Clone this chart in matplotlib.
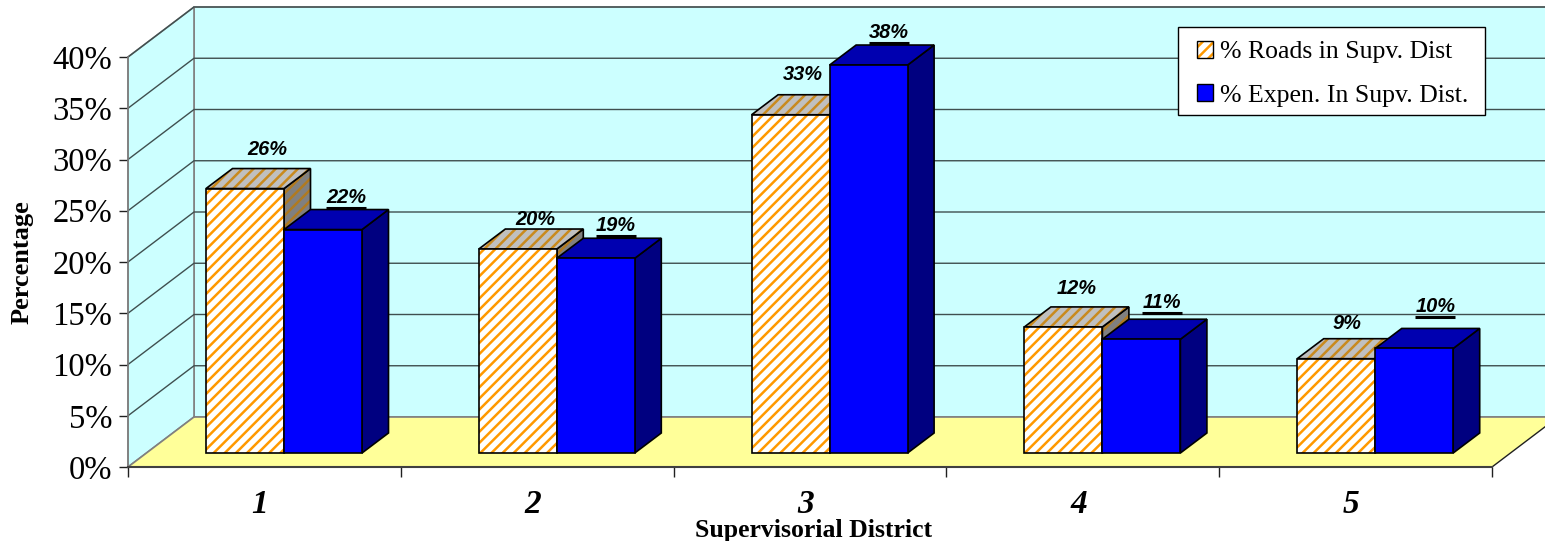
# Supervisorial district chart, pseudo 3D bars on oblique axes
import matplotlib
matplotlib.use("Agg")
import matplotlib.pyplot as plt
from matplotlib.patches import Polygon, Patch, Rectangle
from matplotlib.legend_handler import HandlerTuple

districts = ["1", "2", "3", "4", "5"]
roads = [25.8, 19.9, 33.0, 12.3, 9.2]
expen = [21.8, 19.0, 37.85, 11.1, 10.2]
y_ticks = [0, 5, 10, 15, 20, 25, 30, 35, 40]

# Label offsets in pixels from the middle of the bar top
road_off = [(22, 39), (18, 30), (12, 40), (13, 38), (11, 35)]
expen_off = [(23, 32), (20, 33), (20, 33), (21, 37), (21, 42)]

W, H = 1545, 541
LEFT, RIGHT, TOP, BOTTOM = 128, 1492, 57, 467
px_x = (RIGHT - LEFT) / 5.   # pixels per category
px_y = (BOTTOM - TOP) / 40.  # pixels per percent

# Depth of the chart box and of the bars, in data units
wall_dx = 66 / px_x
wall_dy = 50 / px_y
bar_dx = 26.5 / px_x
bar_dy = 20 / px_y
bar_w = 78 / px_x
bar_gap = 78 / px_x
bar_base = 14 / px_y

ORANGE = "#ff9900"
plt.rcParams["hatch.linewidth"] = 1.8
plt.rcParams["font.family"] = ["Liberation Serif", "DejaVu Serif"]

fig = plt.figure(figsize=(W / 100, H / 100), dpi=100)
ax = fig.add_axes([LEFT / W, 1 - BOTTOM / H, (RIGHT - LEFT) / W, (BOTTOM - TOP) / H])
ax.set_xlim(0, 5)
ax.set_ylim(0, 40)
ax.patch.set_visible(False)
for s in ["top", "right"]:
    ax.spines[s].set_visible(False)
ax.spines["left"].set_color("#808080")
ax.spines["left"].set_linewidth(1.2)
ax.spines["bottom"].set_color("#404040")
ax.spines["bottom"].set_linewidth(1.5)


def add_poly(pts, z=1, **kw):
    p = Polygon(pts, closed=True, clip_on=False, zorder=z, **kw)
    ax.add_patch(p)
    return p


# Walls and floor
add_poly([(wall_dx, 0 + wall_dy), (5 + wall_dx, wall_dy), (5 + wall_dx, 40 + wall_dy), (wall_dx, 40 + wall_dy)],
         facecolor="#ccffff", edgecolor="#808080", lw=1.2)
add_poly([(0, 0), (wall_dx, wall_dy), (wall_dx, 40 + wall_dy), (0, 40)],
         facecolor="#ccffff", edgecolor="#808080", lw=1.2)
add_poly([(0, 0), (5, 0), (5 + wall_dx, wall_dy), (wall_dx, wall_dy)],
         z=1.5, facecolor="#ffff99", edgecolor="none")
ax.plot([5, 5 + wall_dx], [0, wall_dy], color="#202020", lw=1, clip_on=False, zorder=1.6)
ax.plot([0, wall_dx], [0, wall_dy], color="#808080", lw=1.2, clip_on=False, zorder=1.6)
ax.plot([wall_dx, 5 + wall_dx], [wall_dy, wall_dy], color="#808080", lw=1.2, clip_on=False, zorder=1.6)

# Gridlines on both walls
for t in y_ticks[1:]:
    ax.plot([0, wall_dx, 5 + wall_dx], [t, t + wall_dy, t + wall_dy],
            color="#3f4f4f", lw=1, clip_on=False, zorder=1.2)


def draw_bar(x, v, face, top, side, hatch_col=None, hatch_top=None, hatch_side=None):
    y0 = bar_base
    y1 = bar_base + v
    front = [(x, y0), (x + bar_w, y0), (x + bar_w, y1), (x, y1)]
    roof = [(x, y1), (x + bar_w, y1), (x + bar_w + bar_dx, y1 + bar_dy), (x + bar_dx, y1 + bar_dy)]
    wall = [(x + bar_w, y0), (x + bar_w + bar_dx, y0 + bar_dy), (x + bar_w + bar_dx, y1 + bar_dy), (x + bar_w, y1)]
    for pts, col, hc in [(wall, side, hatch_side), (roof, top, hatch_top), (front, face, hatch_col)]:
        if hc:
            add_poly(pts, z=3, facecolor=col, edgecolor=hc, hatch="///", lw=0)
            add_poly(pts, z=3, facecolor="none", edgecolor="black", lw=1.2)
        else:
            add_poly(pts, z=3, facecolor=col, edgecolor="black", lw=1.2)


# Bars, left series first so the right one overlaps it
for i in range(len(districts)):
    x = i + bar_gap
    draw_bar(x, roads[i], "white", "#c0c0c0", "#808080", ORANGE, "#c98a1e", "#b07a20")
    draw_bar(x + bar_w, expen[i], "#0000ff", "#0000b0", "#000080")

# Value labels
lab_font = dict(family="Liberation Sans", fontsize=14.4, fontweight="bold", fontstyle="italic",
                ha="center", va="center", zorder=5, annotation_clip=False)
for i in range(len(districts)):
    x = i + bar_gap
    ax.annotate("%.0f%%" % roads[i], (x + bar_w / 2, bar_base + roads[i]),
                xytext=(road_off[i][0] * 0.72, road_off[i][1] * 0.72), textcoords="offset points", **lab_font)
    ax.annotate("%.0f%%" % expen[i], (x + bar_w * 1.5, bar_base + expen[i]),
                xytext=(expen_off[i][0] * 0.72, expen_off[i][1] * 0.72), textcoords="offset points", **lab_font)
    # underline under the second series label
    ax.plot([x + bar_w * 1.5 + (expen_off[i][0] - 20) / px_x, x + bar_w * 1.5 + (expen_off[i][0] + 20) / px_x],
            [bar_base + expen[i] + (expen_off[i][1] - 10.5) / px_y] * 2,
            color="black", lw=2.2, solid_capstyle="butt", clip_on=False, zorder=5)

# Axes ticks and labels
ax.set_yticks(y_ticks)
ax.set_yticklabels(["%d%%" % t for t in y_ticks], fontsize=23.5)
ax.tick_params(axis="y", length=6.5, width=1, color="#202020", pad=5)
ax.set_xticks(range(6))
ax.set_xticklabels([])
ax.tick_params(axis="x", length=7, width=1, color="#202020")
ax.set_xticks([i + 0.5 - 0.016 for i in range(5)], minor=True)
ax.set_xticklabels(districts, minor=True, fontsize=24, fontweight="bold", fontstyle="italic")
ax.tick_params(axis="x", which="minor", length=0, pad=15.5)

fig.text(22 / W, 1 - 262 / H, "Percentage", rotation=90, ha="center", va="center",
         fontsize=19, fontweight="bold")
fig.text(814 / W, 1 - 530 / H, "Supervisorial District", ha="center", va="center",
         fontsize=18.5, fontweight="bold")

# Legend, frame drawn apart because its side padding is wider than the top padding
fig.add_artist(Rectangle((1178 / W, 1 - 115 / H), 307 / W, 88 / H, transform=fig.transFigure,
                         facecolor="white", edgecolor="black", lw=1, zorder=9))
road_handle = (Patch(facecolor="white", edgecolor=ORANGE, hatch="///", lw=0),
               Patch(facecolor="none", edgecolor="black", lw=1))
expen_handle = Patch(facecolor="#0000ff", edgecolor="black", lw=1)
leg = fig.legend([road_handle, expen_handle], ["% Roads in Supv. Dist", "% Expen. In Supv. Dist."],
                 loc="upper left", bbox_to_anchor=(1197 / W, 1 - 41 / H), fontsize=18.5, frameon=False,
                 handlelength=0.62, handleheight=0.62, handletextpad=0.27, labelspacing=0.82,
                 borderpad=0, borderaxespad=0, handler_map={tuple: HandlerTuple(ndivide=1, pad=0)})
leg.set_zorder(10)

fig.savefig("out.png", dpi=100)
